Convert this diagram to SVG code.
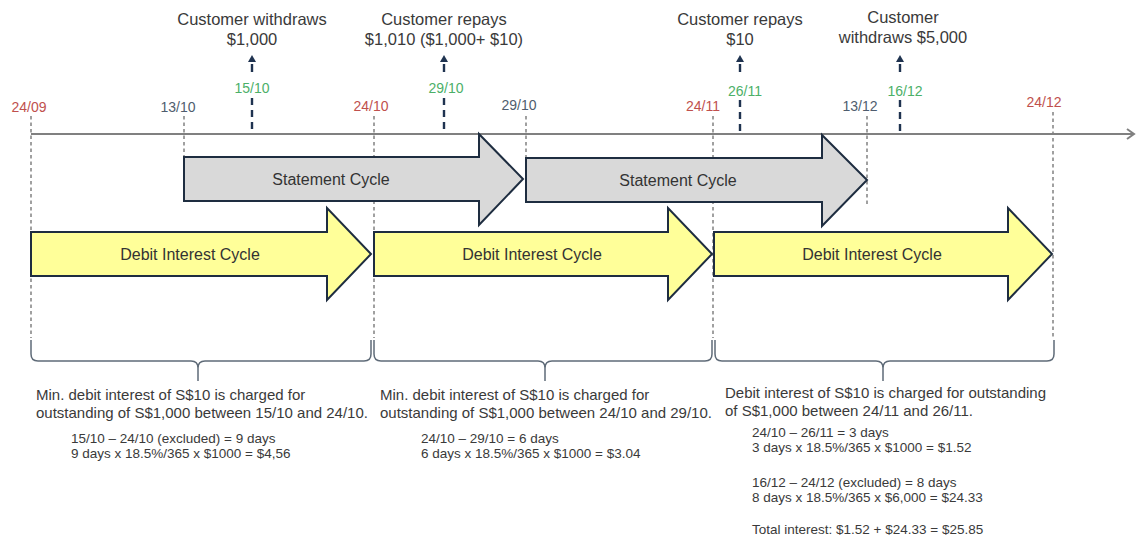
<svg xmlns="http://www.w3.org/2000/svg" width="1136" height="538" viewBox="0 0 1136 538">
  <style>
    text { font-family: "Liberation Sans", Arial, sans-serif; fill: #3a3a3a; }
    .event { font-size: 16.5px; text-anchor: middle; }
    .date { font-size: 14px; text-anchor: middle; }
    .red { fill: #c0504d; }
    .green { fill: #4cb068; }
    .slate { fill: #4f5d6e; }
    .cycle { font-size: 16px; text-anchor: middle; fill: #333333; }
    .note { font-size: 15px; }
    .calc { font-size: 13.5px; }
    .guide { stroke: #6e6e6e; stroke-width: 1.3; stroke-dasharray: 3.5 3; fill: none; }
    .tick { stroke: #1f3350; stroke-width: 2.4; stroke-dasharray: 7 5; fill: none; }
    .stmt { fill: #d9d9d9; stroke: #1e2d40; stroke-width: 2; stroke-linejoin: miter; }
    .debit { fill: #ffff99; stroke: #1e2d40; stroke-width: 2; stroke-linejoin: miter; }
    .brace { stroke: #5f6b78; stroke-width: 1.5; fill: none; }
    .axis { stroke: #808080; stroke-width: 2; fill: none; }
  </style>
  <defs>
    <path id="up" d="M0,-4 L4,3 L-4,3 Z" fill="#1f3350"/>
  </defs>

  <rect width="1136" height="538" fill="#ffffff"/>

  <!-- connectors: timeline axis, date guides, event ticks, braces -->
  <g id="connectors">
    <!-- date guide lines (drawn under the cycle arrows) -->
    <line class="guide" x1="31" y1="116" x2="31" y2="338"/>
    <line class="guide" x1="184" y1="116" x2="184" y2="157"/>
    <line class="guide" x1="374" y1="116" x2="374" y2="338"/>
    <line class="guide" x1="526" y1="116" x2="526" y2="158"/>
    <line class="guide" x1="713" y1="116" x2="713" y2="338"/>
    <line class="guide" x1="867" y1="116" x2="867" y2="204"/>
    <line class="guide" x1="1053" y1="112" x2="1053" y2="338"/>

    <!-- time axis -->
    <line class="axis" x1="31" y1="134" x2="1134" y2="134"/>
    <polyline class="axis" points="1127,129 1134,134 1127,139" stroke-width="1.8"/>

    <!-- event ticks with upward arrows -->
    <g id="tick-1510">
      <line class="tick" x1="252" y1="98" x2="252" y2="134"/>
      <line x1="252" y1="64" x2="252" y2="72" stroke="#1f3350" stroke-width="2.4"/>
      <use href="#up" x="252" y="59"/>
    </g>
    <g id="tick-2910">
      <line class="tick" x1="444" y1="98" x2="444" y2="134"/>
      <line x1="444" y1="64" x2="444" y2="72" stroke="#1f3350" stroke-width="2.4"/>
      <use href="#up" x="444" y="59"/>
    </g>
    <g id="tick-2611">
      <line class="tick" x1="740" y1="100" x2="740" y2="134"/>
      <line x1="740" y1="64" x2="740" y2="72" stroke="#1f3350" stroke-width="2.4"/>
      <use href="#up" x="740" y="59"/>
    </g>
    <g id="tick-1612">
      <line class="tick" x1="900" y1="100" x2="900" y2="134"/>
      <line x1="900" y1="64" x2="900" y2="72" stroke="#1f3350" stroke-width="2.4"/>
      <use href="#up" x="900" y="59"/>
    </g>

    <!-- braces under each debit interest cycle -->
    <path class="brace" d="M31,340 V354 Q31,361 38,361 H191 Q198,361 198,368 V381 M198,368 Q198,361 205,361 H364 Q371,361 371,354 V340"/>
    <path class="brace" d="M374,340 V354 Q374,361 381,361 H538 Q545,361 545,368 V381 M545,368 Q545,361 552,361 H705 Q712,361 712,354 V340"/>
    <path class="brace" d="M715,340 V354 Q715,361 722,361 H876 Q883,361 883,368 V381 M883,368 Q883,361 890,361 H1047 Q1054,361 1054,354 V340"/>
  </g>

  <!-- event labels -->
  <g id="event-withdraw-1000">
    <text class="event" x="252" y="25">Customer withdraws</text>
    <text class="event" x="252" y="45">$1,000</text>
  </g>
  <g id="event-repay-1010">
    <text class="event" x="444" y="25">Customer repays</text>
    <text class="event" x="444" y="45">$1,010 ($1,000+ $10)</text>
  </g>
  <g id="event-repay-10">
    <text class="event" x="740" y="25">Customer repays</text>
    <text class="event" x="740" y="45">$10</text>
  </g>
  <g id="event-withdraw-5000">
    <text class="event" x="903" y="23">Customer</text>
    <text class="event" x="903" y="43">withdraws $5,000</text>
  </g>

  <!-- date labels -->
  <g id="dates">
    <text class="date red" x="29" y="112">24/09</text>
    <text class="date slate" x="178" y="112">13/10</text>
    <text class="date green" x="252" y="93">15/10</text>
    <text class="date red" x="371" y="111">24/10</text>
    <text class="date green" x="446" y="93">29/10</text>
    <text class="date slate" x="519" y="110">29/10</text>
    <text class="date red" x="703" y="111">24/11</text>
    <text class="date green" x="745" y="96">26/11</text>
    <text class="date slate" x="860" y="111">13/12</text>
    <text class="date green" x="905" y="96">16/12</text>
    <text class="date red" x="1044" y="107">24/12</text>
  </g>

  <!-- statement cycles -->
  <g id="statement-cycle-1">
    <polygon class="stmt" points="184,157 479,157 479,134 523,179 479,225 479,201 184,201"/>
    <text class="cycle" x="331" y="185">Statement Cycle</text>
  </g>
  <g id="statement-cycle-2">
    <polygon class="stmt" points="526,158 822,158 822,135 867,180 822,226 822,202 526,202"/>
    <text class="cycle" x="678" y="186">Statement Cycle</text>
  </g>

  <!-- debit interest cycles -->
  <g id="debit-cycle-1">
    <polygon class="debit" points="31,232 327,232 327,208 371,254 327,300 327,276 31,276"/>
    <text class="cycle" x="190" y="260">Debit Interest Cycle</text>
  </g>
  <g id="debit-cycle-2">
    <polygon class="debit" points="374,232 668,232 668,208 712,254 668,300 668,276 374,276"/>
    <text class="cycle" x="532" y="260">Debit Interest Cycle</text>
  </g>
  <g id="debit-cycle-3">
    <polygon class="debit" points="714,232 1008,232 1008,208 1052,254 1008,300 1008,276 714,276"/>
    <text class="cycle" x="872" y="260">Debit Interest Cycle</text>
  </g>

  <!-- interest notes -->
  <g id="note-1">
    <text class="note" x="36" y="400">Min. debit interest of S$10 is charged for</text>
    <text class="note" x="36" y="418">outstanding of S$1,000 between 15/10 and 24/10.</text>
    <text class="calc" x="71" y="443">15/10 – 24/10 (excluded) = 9 days</text>
    <text class="calc" x="71" y="458">9 days x 18.5%/365 x $1000 = $4,56</text>
  </g>
  <g id="note-2">
    <text class="note" x="380" y="400">Min. debit interest of S$10 is charged for</text>
    <text class="note" x="380" y="418">outstanding of S$1,000 between 24/10 and 29/10.</text>
    <text class="calc" x="421" y="443">24/10 – 29/10 = 6 days</text>
    <text class="calc" x="421" y="458">6 days x 18.5%/365 x $1000 = $3.04</text>
  </g>
  <g id="note-3">
    <text class="note" x="725" y="398">Debit interest of S$10 is charged for outstanding</text>
    <text class="note" x="725" y="416">of S$1,000 between 24/11 and 26/11.</text>
    <text class="calc" x="752" y="437">24/10 – 26/11 = 3 days</text>
    <text class="calc" x="752" y="452">3 days x 18.5%/365 x $1000 = $1.52</text>
    <text class="calc" x="752" y="487">16/12 – 24/12 (excluded) = 8 days</text>
    <text class="calc" x="752" y="502">8 days x 18.5%/365 x $6,000 = $24.33</text>
    <text class="calc" x="752" y="534">Total interest: $1.52 + $24.33 = $25.85</text>
  </g>
</svg>
